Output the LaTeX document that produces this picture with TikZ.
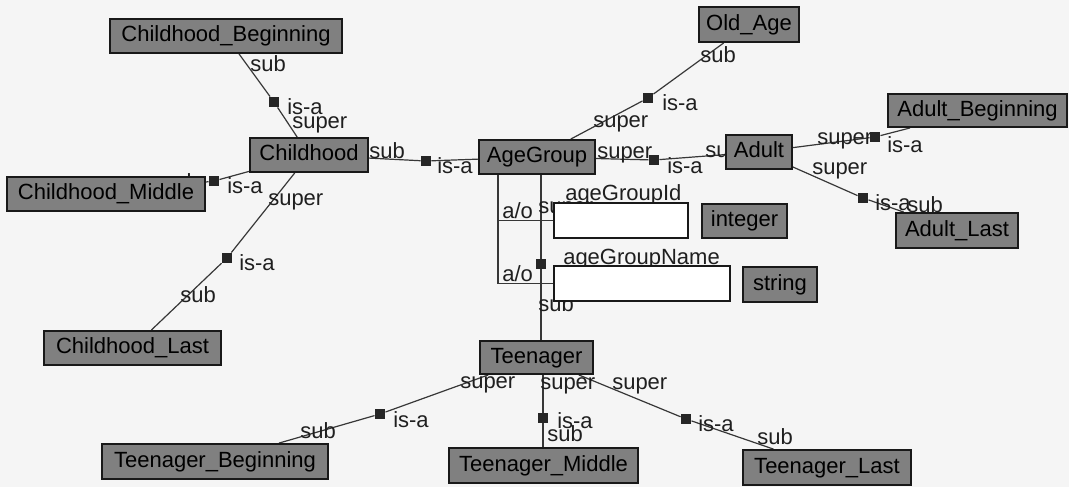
\documentclass[tikz,border=0pt]{standalone}
\usepackage{fontspec}
\setmainfont{Liberation Sans}
\definecolor{paper}{RGB}{245,245,245}
\definecolor{clsfill}{RGB}{128,128,128}
\definecolor{edgecol}{RGB}{55,55,55}
\pgfdeclarelayer{paperlayer}
\pgfdeclarelayer{edges}
\pgfdeclarelayer{labels}
\pgfsetlayers{paperlayer,edges,labels,main}
% class box given by its corners (in px) and its text
\newcommand\classnode[6]{\node[cls, minimum width={(#4-#2)*0.75pt}, minimum height={(#5-#3)*0.75pt}] (#1) at ({(#2+#4)/2},{(#3+#5)/2}) {#6};}
% empty attribute slot
\newcommand\slotnode[5]{\node[slot, minimum width={(#4-#2)*0.75pt}, minimum height={(#5-#3)*0.75pt}] (#1) at ({(#2+#4)/2},{(#3+#5)/2}) {};}
% edge/role label: left end and vertical middle
\newcommand\rolelabel[4]{\node[lbl] (#1) at (#2,#3) {#4};}
\begin{document}
\begin{tikzpicture}[x=0.75pt,y=-0.75pt,
  font=\fontsize{16.5}{18}\selectfont,
  cls/.style={draw=black!90, fill=clsfill, line width=1.4pt, inner sep=0pt, text height=11.8pt, text depth=3.4pt},
  slot/.style={draw=black!90, fill=white, line width=1.2pt, inner sep=0pt},
  joint/.style={fill=black!85, minimum size=7.8pt, inner sep=0pt},
  lbl/.style={anchor=west, inner sep=0pt, text=black!88, text height=11.8pt, text depth=0pt},
  link/.style={draw=edgecol, line width=0.9pt}]

\begin{pgfonlayer}{paperlayer}
  \fill[paper] (0,0) rectangle (1069,487);
\end{pgfonlayer}
\useasboundingbox (0,0) rectangle (1069,487);

% classes
\classnode{cb}{110}{19}{342}{53}{Childhood\_Beginning}
\classnode{ch}{250}{138}{368}{172}{Childhood}
\classnode{cm}{7}{177}{205}{211}{Childhood\_Middle}
\classnode{cl}{44}{331}{221}{365}{Childhood\_Last}
\classnode{ag}{479}{140}{595}{174}{AgeGroup}
\classnode{oa}{699}{7}{799}{42}{Old\_Age}
\classnode{ad}{726}{135}{792}{169}{Adult}
\classnode{ab}{888}{94}{1067}{127}{Adult\_Beginning}
\classnode{al}{896}{213}{1018}{248}{Adult\_Last}
\classnode{tn}{480}{341}{593}{374}{Teenager}
\classnode{tb}{102}{444}{328}{479}{Teenager\_Beginning}
\classnode{tm}{449}{448}{638}{483}{Teenager\_Middle}
\classnode{tl}{743}{450}{911}{485}{Teenager\_Last}
\classnode{ti}{702}{204}{787}{238}{integer}
\classnode{ts}{743}{267}{817}{302}{string}

% attribute slots
\slotnode{id}{554}{203}{688}{238}
\slotnode{nm}{554}{266}{730}{301}

% is-a joints
\node[joint] (j1) at (274,102) {};
\node[joint] (j2) at (426,161) {};
\node[joint] (j3) at (214,181) {};
\node[joint] (j4) at (227,258) {};
\node[joint] (j5) at (648,98) {};
\node[joint] (j6) at (654,160) {};
\node[joint] (j7) at (875,137) {};
\node[joint] (j8) at (863,198) {};
\node[joint] (j9) at (541,264) {};
\node[joint] (j10) at (380,414) {};
\node[joint] (j11) at (543,418) {};
\node[joint] (j12) at (686,419) {};
\coordinate (aojoin) at (498,284);

\begin{pgfonlayer}{edges}
  \draw[link] (cb) -- (j1) -- (ch);
  \draw[link] (ch) -- (j2) -- (ag);
  \draw[link] (cm) -- (j3) -- (ch);
  \draw[link] (cl) -- (j4) -- (ch);
  \draw[link] (oa) -- (j5) -- (ag);
  \draw[link] (ag) -- (j6) -- (ad);
  \draw[link] (ab) -- (j7) -- (ad);
  \draw[link] (al) -- (j8) -- (ad);
  \draw[link] (ag.south -| j9) -- (j9) -- (tn.north -| j9);
  \draw[link] (tb) -- (j10) -- (tn);
  \draw[link] (tn.south -| j11) -- (j11) -- (tm.north -| j11);
  \draw[link] (tl) -- (j12) -- (tn);
  % attribute links
  \draw[link] (ag.south -| aojoin) -- (aojoin |- nm.west) -- (nm.west);
  \draw[link] (aojoin |- id.west) -- (id.west);
\end{pgfonlayer}

\begin{pgfonlayer}{labels}
  \rolelabel{r1}{250}{64}{sub}
  \rolelabel{r2}{287}{107}{is-a}
  \rolelabel{r3}{292}{121}{super}
  \rolelabel{r4}{369}{151}{sub}
  \rolelabel{r5}{437}{166}{is-a}
  \rolelabel{r6}{163}{182}{sub}
  \rolelabel{r7}{227}{186}{is-a}
  \rolelabel{r8}{268}{198}{super}
  \rolelabel{r9}{239}{263}{is-a}
  \rolelabel{r10}{180}{295}{sub}
  \rolelabel{r11}{593}{120}{super}
  \rolelabel{r12}{662}{103}{is-a}
  \rolelabel{r13}{700}{55}{sub}
  \rolelabel{r14}{597}{151}{super}
  \rolelabel{r15}{667}{166}{is-a}
  \rolelabel{r16}{705}{150}{sub}
  \rolelabel{r17}{817}{137}{super}
  \rolelabel{r18}{887}{145}{is-a}
  \rolelabel{r19}{812}{167}{super}
  \rolelabel{r20}{875}{203}{is-a}
  \rolelabel{r21}{907}{205}{sub}
  \rolelabel{r22}{502}{211}{a/o}
  \rolelabel{r23}{502}{274}{a/o}
  \rolelabel{r24}{538}{206}{super}
  \rolelabel{r25}{538}{304}{sub}
  \rolelabel{r26}{565}{193}{ageGroupId}
  \rolelabel{r27}{563}{257}{ageGroupName}
  \rolelabel{r28}{460}{381}{super}
  \rolelabel{r29}{393}{420}{is-a}
  \rolelabel{r30}{300}{431}{sub}
  \rolelabel{r31}{540}{382}{super}
  \rolelabel{r32}{557}{421}{is-a}
  \rolelabel{r33}{547}{434}{sub}
  \rolelabel{r34}{612}{382}{super}
  \rolelabel{r35}{698}{424}{is-a}
  \rolelabel{r36}{757}{437}{sub}
\end{pgfonlayer}
\end{tikzpicture}
\end{document}
